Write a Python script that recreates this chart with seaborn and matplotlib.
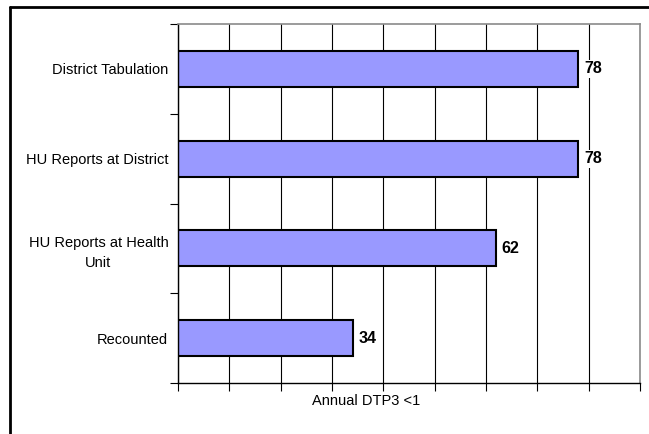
import matplotlib
matplotlib.use("Agg")
import matplotlib.pyplot as plt
import seaborn as sns
import pandas as pd
from matplotlib.lines import Line2D

categories = [
    "District Tabulation",
    "HU Reports at District",
    "HU Reports at Health\nUnit",
    "Recounted",
]
values = [78, 78, 62, 34]
x_label = "Annual DTP3 <1"


def main() -> None:
    sns.set_style("white")
    plt.rcParams["font.family"] = ["Liberation Sans", "DejaVu Sans"]
    plt.rcParams["text.color"] = "black"
    plt.rcParams["ytick.labelcolor"] = "black"

    data = pd.DataFrame({"Source": categories, "Count": values})

    fig = plt.figure(figsize=(6.49, 4.34), dpi=100)
    ax = fig.add_axes([178 / 649, 1 - 383 / 434, 462 / 649, 359 / 434])

    sns.barplot(
        data=data, x="Count", y="Source", orient="h",
        color="#9999FF", saturation=1, width=0.4,
        edgecolor="black", linewidth=1.5, ax=ax,
    )

    ax.set_xlim(0, 90)
    ax.set_ylim(3.5, -0.5)
    ax.set_xticks(range(0, 91, 10))
    ax.set_xticklabels([])
    ax.tick_params(axis="x", direction="out", length=6, width=0.8,
                   color="black", bottom=True)
    ax.set_yticks(range(len(categories)))
    ax.set_yticklabels(categories, fontsize=10.5, ha="right",
                       multialignment="center", color="black",
                       linespacing=1.6)
    ax.tick_params(axis="y", length=0, pad=7)
    ax.set_yticks([-0.5, 0.5, 1.5, 2.5, 3.5], minor=True)
    ax.tick_params(axis="y", which="minor", direction="out", length=6,
                   width=0.8, color="black", left=True)

    ax.xaxis.grid(True, color="black", linewidth=0.8)
    ax.set_axisbelow(True)

    for side in ["left", "bottom"]:
        ax.spines[side].set_color("black")
        ax.spines[side].set_linewidth(1)
    for side in ["top", "right"]:
        ax.spines[side].set_color("#8a8a8a")
        ax.spines[side].set_linewidth(1.2)

    ax.set_xlabel("")
    ax.set_ylabel("")
    for container in ax.containers:
        ax.bar_label(
            container, padding=4, fontsize=11.5, fontweight="bold",
            color="black",
            bbox=dict(facecolor="white", edgecolor="none", pad=1),
        )

    fig.text(366 / 649, 1 - 401 / 434, x_label, fontsize=10.5,
             ha="center", va="center", color="black")

    # chart frame
    fig.add_artist(Line2D([10 / 649, 10 / 649], [0, 1 - 7 / 434],
                          transform=fig.transFigure, color="black",
                          linewidth=2))
    fig.add_artist(Line2D([10 / 649, 1], [1 - 7 / 434, 1 - 7 / 434],
                          transform=fig.transFigure, color="black",
                          linewidth=2))

    fig.savefig("out.png", dpi=100)


if __name__ == "__main__":
    main()
